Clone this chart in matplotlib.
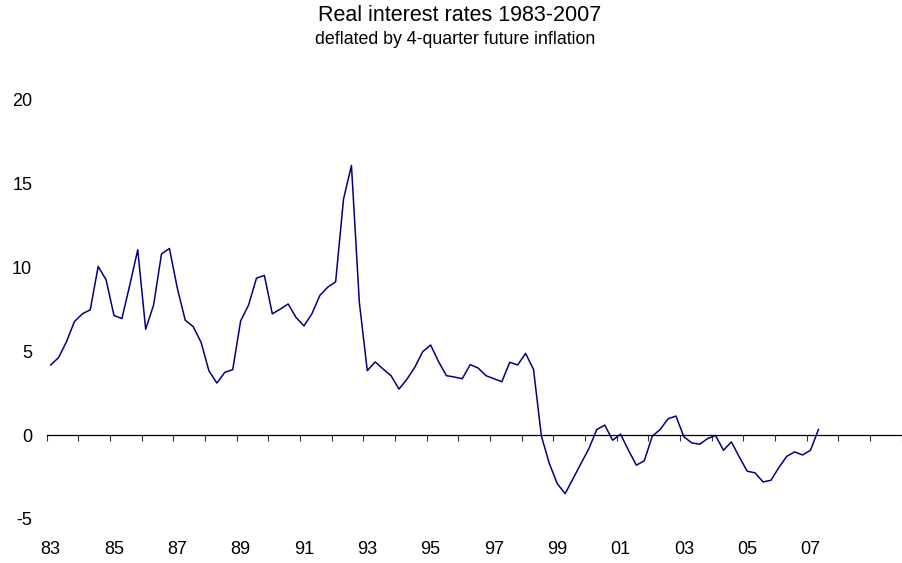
import numpy as np
import matplotlib
matplotlib.use('Agg')
import matplotlib.pyplot as plt

plt.rcParams['font.family'] = ['Liberation Sans', 'DejaVu Sans']

# quarterly real interest rates, 1983Q1 - 2007Q2
rates = [4.19, 4.63, 5.58, 6.78, 7.24, 7.48, 10.07, 9.27, 7.14, 6.96,
         8.97, 11.06, 6.32, 7.76, 10.81, 11.14, 8.77, 6.86, 6.48, 5.54,
         3.83, 3.11, 3.75, 3.91, 6.82, 7.76, 9.37, 9.53, 7.24, 7.52,
         7.83, 7.02, 6.52, 7.24, 8.33, 8.83, 9.15, 14.09, 16.09, 7.91,
         3.85, 4.37, 3.95, 3.55, 2.75, 3.33, 4.05, 4.98, 5.38, 4.39,
         3.55, 3.47, 3.37, 4.21, 4.01, 3.55, 3.37, 3.19, 4.35, 4.19,
         4.88, 3.93, -0.06, -1.69, -2.89, -3.49, -2.59, -1.69, -0.80, 0.34,
         0.60, -0.30, 0.06, -0.90, -1.79, -1.53, -0.06, 0.34, 0.98, 1.14,
         -0.10, -0.46, -0.54, -0.20, -0.02, -0.90, -0.40, -1.30, -2.15, -2.25,
         -2.79, -2.69, -1.93, -1.26, -1.00, -1.18, -0.90, 0.34]
start_year = 1983
end_year = 2010
label_years = list(range(1983, 2008, 2))
y_ticks = [-5, 0, 5, 10, 15, 20]

quarters = np.arange(len(rates))
x = start_year + (quarters + 0.5) / 4

fig = plt.figure(figsize=(9.02, 5.63), dpi=100)
ax = fig.add_axes([0.0518, 0.0782, 0.9477, 0.7442])

ax.plot(x, rates, color='#000080', lw=1.1)

ax.set_xlim(start_year, end_year)
ax.set_ylim(-5, 20)

for s in ['top', 'right', 'left']:
    ax.spines[s].set_visible(False)
ax.spines['bottom'].set_position(('data', 0))
ax.spines['bottom'].set_linewidth(0.9)

ax.set_xticks(np.arange(start_year, end_year + 1))
ax.set_xticklabels([])
ax.tick_params(axis='x', which='major', direction='out', length=4.5, width=0.8, color='#333333')
ax.set_xticks([yr + 0.125 for yr in label_years], minor=True)
ax.set_xticklabels([str(yr)[2:] for yr in label_years], minor=True)
ax.tick_params(axis='x', which='minor', length=0, pad=76, labelsize=13)

ax.set_yticks(y_ticks)
ax.set_yticklabels([str(v) for v in y_ticks])
ax.tick_params(axis='y', length=0, pad=10.5, labelsize=13)

fig.text(0.510, 0.973, 'Real interest rates 1983-2007', ha='center', va='center', fontsize=15.5)
fig.text(0.505, 0.930, 'deflated by 4-quarter future inflation', ha='center', va='center', fontsize=12.8)

fig.savefig('out.png', dpi=100)
